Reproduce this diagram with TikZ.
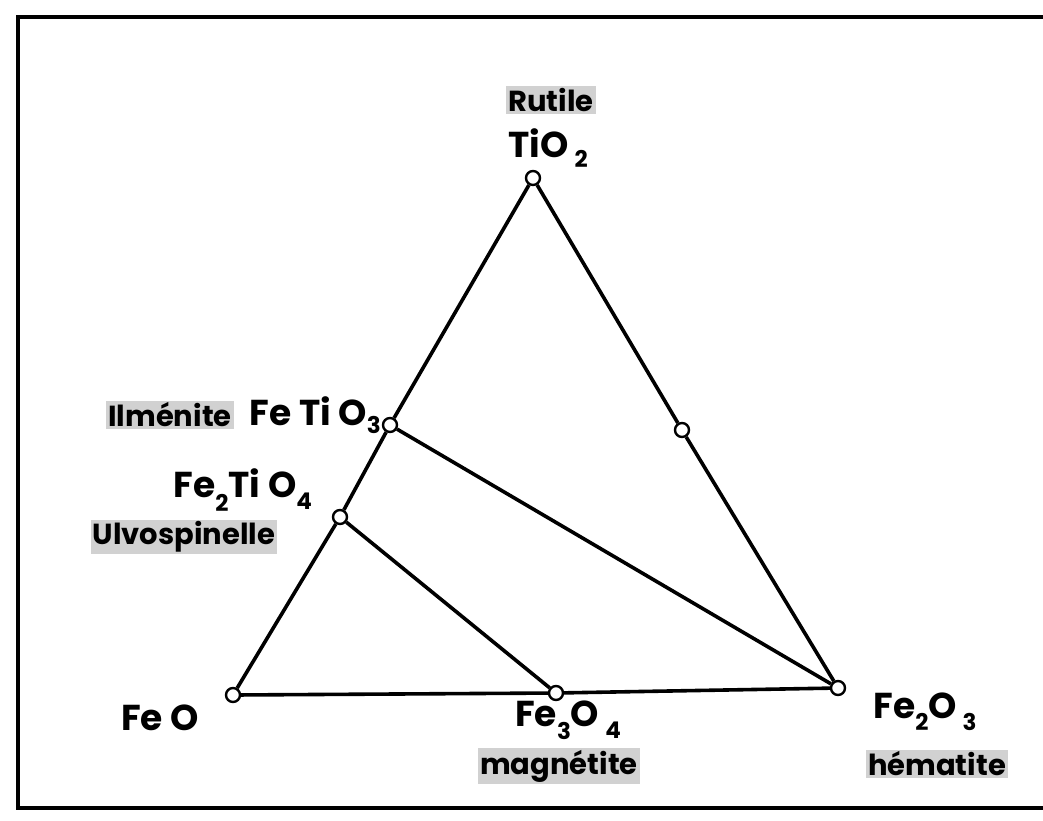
\documentclass[tikz,border=0pt]{standalone}
\usepackage{fontspec}
\setmainfont{Poppins}
\usetikzlibrary{positioning}
\newcommand{\lowsub}[2][10pt]{\raisebox{-#1}{\fontsize{23}{23}\selectfont #2}}

\begin{document}
\begin{tikzpicture}[x=1pt,y=-1pt,font=\fontsize{36}{40}\selectfont\bfseries]
\tikzstyle{pt}=[circle, draw=black, fill=white, line width=2.4pt, minimum size=14pt, inner sep=0pt]
\tikzstyle{edge}=[line width=3.6pt]
\tikzstyle{mineral}=[fill=black!18, inner sep=2pt, font=\fontsize{29}{32}\selectfont\bfseries]
\useasboundingbox (0,0) rectangle (1043,820);
\draw[line width=3.6pt] (18,17) rectangle (1080,808);
% compositions
\node[pt] (tio2) at (533,178) {};
\node[pt] (fetio3) at (390,425) {};
\node[pt] (fe2tio4) at (340,517) {};
\node[pt] (feo) at (233,695) {};
\node[pt] (fe3o4) at (556,693) {};
\node[pt] (fe2o3) at (838,688) {};
\node[pt] (mid) at (682,430) {};
% triangle
\draw[edge] (feo) -- (fe2tio4);
\draw[edge] (fe2tio4) -- (fetio3);
\draw[edge] (fetio3) -- (tio2);
\draw[edge] (tio2) -- (mid);
\draw[edge] (mid) -- (fe2o3);
\draw[edge] (fe2o3) -- (fe3o4);
\draw[edge] (fe3o4) -- (feo);
% joins
\draw[edge] (fe2tio4) -- (fe3o4);
\draw[edge] (fetio3) -- (fe2o3);
% labels
\node[mineral] (rutile) at (551,100) {Rutile};
\node (tio2lbl) at (548,148) {TiO\,\lowsub{2}};
\node[mineral] (ilm) at (170,415) {Ilménite};
\node[anchor=west] (fetio3lbl) at (246,415) {Fe Ti O\lowsub[8pt]{3}};
\node[anchor=west] (fe2tio4lbl) at (170,490) {Fe\lowsub[14pt]{2}Ti O\lowsub[12pt]{4}};
\node[mineral] (ulvo) at (184,537) {Ulvospinelle};
\node (feolbl) at (160,718) {Fe O};
\node (fe3o4lbl) at (568,720) {Fe\lowsub[13pt]{3}O\,\lowsub[12pt]{4}};
\node[mineral] (magn) at (559,766) {magnétite};
\node (fe2o3lbl) at (925,712) {Fe\lowsub[12pt]{2}O\,\lowsub[12pt]{3}};
\node[mineral] (hema) at (937,764) {hématite};
\end{tikzpicture}
\end{document}
